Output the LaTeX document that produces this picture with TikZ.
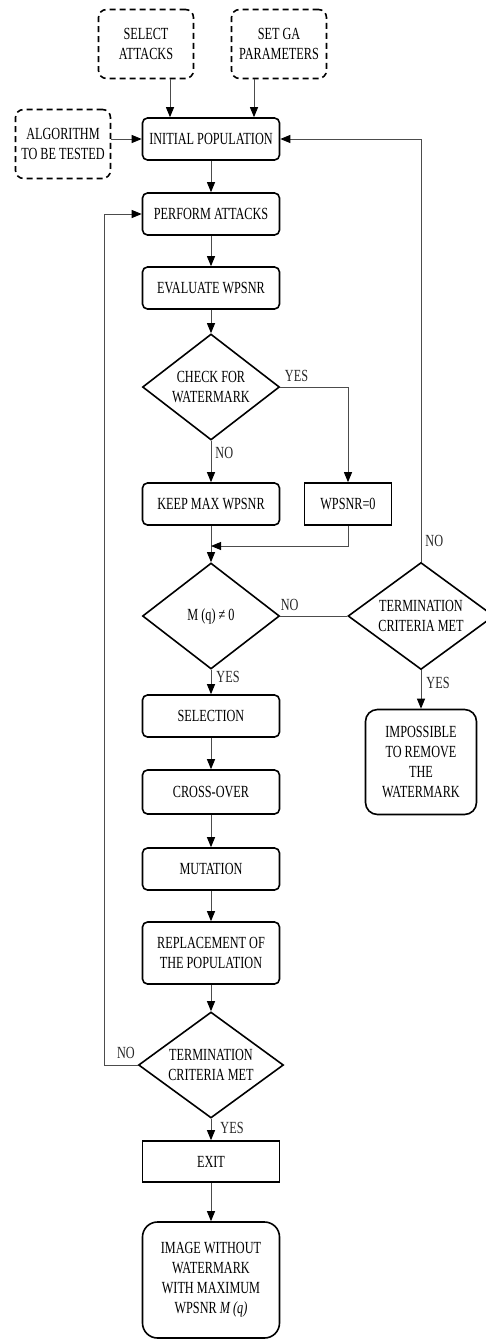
\documentclass[tikz,border=0pt]{standalone}
\usepackage{fontspec}
\setmainfont{Liberation Serif}[FakeStretch=0.72]
\usetikzlibrary{shapes.geometric,arrows.meta,calc}
\begin{document}
\begin{tikzpicture}[x=1pt,y=-1pt,
  every node/.style={font=\fontsize{17}{20}\selectfont, align=center, inner sep=0pt},
  box/.style={draw, line width=1.6pt, rounded corners=5pt, minimum width=137pt, minimum height=42pt},
  sqbox/.style={draw, line width=1.6pt, minimum height=42pt},
  dbox/.style={draw, dash pattern=on 6pt off 4pt, line width=1.6pt, rounded corners=8pt, minimum width=95pt, minimum height=69pt},
  dia/.style={draw, diamond, line width=1.6pt, aspect=1.29, minimum width=137pt, minimum height=106pt},
  conn/.style={line width=0.9pt, draw=black!70},
  arr/.style={conn, -{Triangle[length=10pt,width=8pt,color=black]}},
  lbl/.style={text=black!85}]
\useasboundingbox (0,0) rectangle (486,1342);

% nodes
\node[dbox] (sel) at (146,44) {SELECT\\ATTACKS};
\node[dbox] (ga) at (279,44) {SET GA\\PARAMETERS};
\node[dbox] (alg) at (63,144) {ALGORITHM\\TO BE TESTED};
\node[box] (init) at (211,139) {INITIAL POPULATION};
\node[box] (perf) at (211,214) {PERFORM ATTACKS};
\node[box] (eval) at (211,288) {EVALUATE WPSNR};
\node[dia] (chk) at (211,387) {CHECK FOR\\WATERMARK};
\node[box] (keep) at (211,504) {KEEP MAX WPSNR};
\node[sqbox, minimum width=87pt] (wz) at (348,504) {WPSNR=0};
\node[dia] (mq) at (211,616) {M (q) ≠ 0};
\node[dia, minimum width=146pt, minimum height=107pt] (t2) at (421,616) {TERMINATION\\CRITERIA MET};
\node[draw, line width=1.6pt, rounded corners=12pt, minimum width=111pt, minimum height=105pt] (imp) at (421,762) {IMPOSSIBLE\\TO REMOVE\\THE\\WATERMARK};
\node[box] (sel2) at (211,716) {SELECTION};
\node[box, minimum height=44pt] (cross) at (211,792) {CROSS-OVER};
\node[box] (mut) at (211,869) {MUTATION};
\node[box, minimum height=62pt] (rep) at (211,953) {REPLACEMENT OF\\THE POPULATION};
\node[dia, minimum width=145pt] (t3) at (211,1065) {TERMINATION\\CRITERIA MET};
\node[sqbox, minimum width=137pt, minimum height=41pt] (exit) at (211,1161.5) {EXIT};
\node[draw, line width=1.6pt, rounded corners=15pt, minimum width=137pt, minimum height=116pt] (fin) at (211,1280) {IMAGE WITHOUT\\WATERMARK\\WITH MAXIMUM\\WPSNR \textit{M (q)}};

% helper coordinates
\coordinate (xs) at (170,0);
\coordinate (xg) at (254,0);
\coordinate (fb) at (104,0);
\coordinate (jn) at (211,546);

% connectors
\draw[arr] (sel.south -| xs) -- (init.north -| xs);
\draw[arr] (ga.south -| xg) -- (init.north -| xg);
\draw[arr] (alg.east |- init.west) -- (init.west);
\draw[arr] (init) -- (perf);
\draw[arr] (perf) -- (eval);
\draw[arr] (eval) -- (chk);
\draw[arr] (chk) -- node[lbl, pos=0.3, right=4pt]{NO} (keep);
\draw[arr] (chk.east) -| node[lbl, pos=0.12, above=5pt]{YES} (wz.north);
\draw[arr] (keep) -- (mq);
\draw[arr] (wz.south) |- (jn);
\draw[conn] (mq.east) -- node[lbl, pos=0.14, above=5pt]{NO} (t2.west);
\draw[arr] (t2.north) |- node[lbl, pos=0.024, right=4pt]{NO} (init.east);
\draw[arr] (t2) -- node[lbl, pos=0.33, right=5pt]{YES} (imp);
\draw[arr] (mq) -- node[lbl, pos=0.3, right=5pt]{YES} (sel2);
\draw[arr] (sel2) -- (cross);
\draw[arr] (cross) -- (mut);
\draw[arr] (mut) -- (rep);
\draw[arr] (rep) -- (t3);
\draw[arr] (t3.west) -- node[lbl, pos=0.35, above=6pt]{NO} (t3.west -| fb) |- (perf.west);
\draw[arr] (t3) -- node[lbl, pos=0.43, right=9pt]{YES} (exit);
\draw[arr] (exit) -- (fin);
\end{tikzpicture}
\end{document}
